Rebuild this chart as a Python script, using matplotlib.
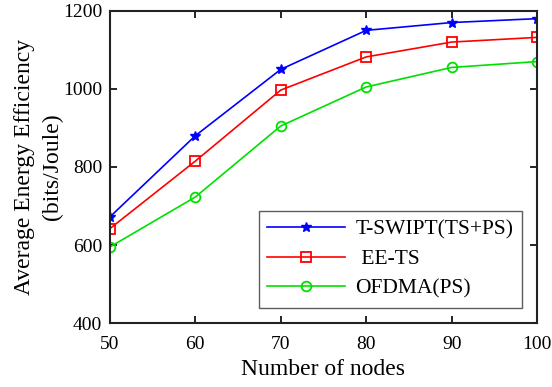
import matplotlib
matplotlib.use("Agg")
import matplotlib.pyplot as plt

nodes = [50, 60, 70, 80, 90, 100]
tswipt = [672, 880, 1050, 1150, 1170, 1180]
ee_ts = [642, 815, 997, 1082, 1120, 1132]
ofdma = [595, 723, 905, 1005, 1055, 1070]

plt.rcParams['font.family'] = ['Liberation Serif', 'DejaVu Serif']
plt.rcParams['font.size'] = 15

fig = plt.figure(figsize=(5.52, 3.87), dpi=100)
ax = fig.add_axes([0.199, 0.165, 0.774, 0.807])

ax.plot(nodes, tswipt, color='blue', marker='*', markersize=7, lw=1.2, label='T-SWIPT(TS+PS)')
ax.plot(nodes, ee_ts, color='red', marker='s', markersize=7, mfc='none', mew=1.3, lw=1.2, label=' EE-TS')
ax.plot(nodes, ofdma, color='#00e000', marker='o', markersize=7, mfc='none', mew=1.3, lw=1.2, label='OFDMA(PS)')

ax.set_xlim(50, 100)
ax.set_ylim(400, 1200)
ax.set_xticks([50, 60, 70, 80, 90, 100])
ax.set_yticks([400, 600, 800, 1000, 1200])
ax.tick_params(direction='in', top=True, right=True, length=5, width=1.2, labelsize=14)
ax.tick_params(axis='x', pad=9.5)
ax.tick_params(axis='y', pad=5.5)
for s in ax.spines.values():
    s.set_linewidth(1.5)
    s.set_color('#222222')

ax.set_xlabel('Number of nodes', fontsize=17, labelpad=4)
ax.set_ylabel('Average Energy Efficiency\n(bits/Joule)', fontsize=17, labelpad=0, linespacing=1.4)

leg = ax.legend(loc='lower right', fontsize=15.5, fancybox=False, edgecolor='#333333',
                handlelength=3.6, handletextpad=0.5, borderpad=0.4, labelspacing=0.45,
                bbox_to_anchor=(0.965, 0.05), borderaxespad=0)
leg.get_frame().set_linewidth(1.0)

fig.savefig('out.png', dpi=100)
